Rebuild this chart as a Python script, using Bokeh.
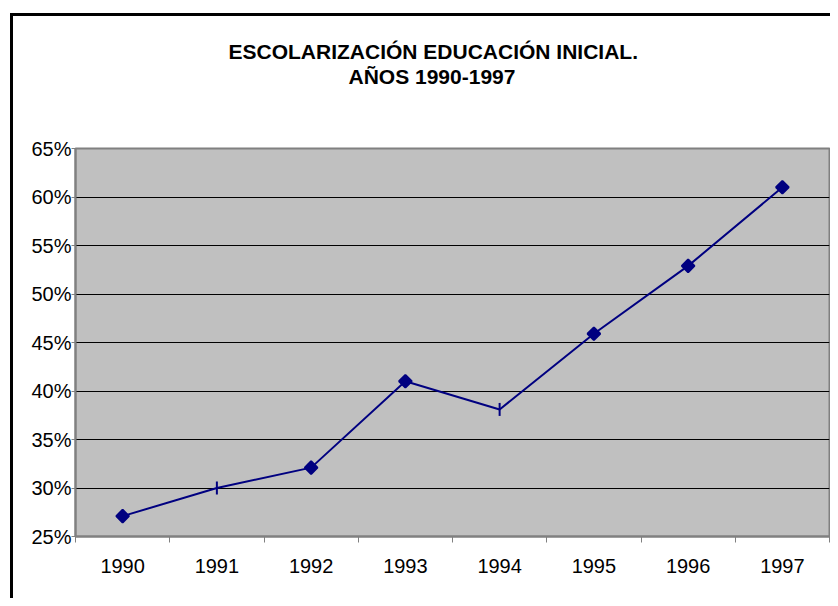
import math
from bokeh.plotting import figure
from bokeh.models import (Range1d, FixedTicker, NumeralTickFormatter, Title,
                          ColumnDataSource, InlineStyleSheet)
from bokeh.embed import file_html
from bokeh.resources import INLINE

# ---- data ----
years = ["1990", "1991", "1992", "1993", "1994", "1995", "1996", "1997"]
enrolment = [0.271, 0.300, 0.321, 0.410, 0.381, 0.459, 0.529, 0.610]
y_ticks = [0.25, 0.30, 0.35, 0.40, 0.45, 0.50, 0.55, 0.60, 0.65]
title_line1 = "ESCOLARIZACIÓN EDUCACIÓN INICIAL."
title_line2 = "AÑOS 1990-1997"

# ---- styles (per point marker look) ----
marker_shapes = ["square", "dash", "square", "square", "dash", "square", "square", "square"]
marker_angles = [math.pi / 4 if m == "square" else math.pi / 2 for m in marker_shapes]
marker_sizes = [9 if m == "square" else 13 for m in marker_shapes]

idx = list(range(len(years)))
src = ColumnDataSource(dict(x=idx, y=enrolment, marker=marker_shapes,
                            angle=marker_angles, size=marker_sizes))

border_css = InlineStyleSheet(css="""
:host::after {
  content: "";
  position: absolute;
  left: 10px;
  top: 13px;
  width: calc(100% - 13px);
  height: calc(100% - 16px);
  border-left: 3px solid black;
  border-top: 3px solid black;
  pointer-events: none;
  z-index: 10;
}
""")

p = figure(width=830, height=598, output_backend="svg", toolbar_location=None,
           x_range=Range1d(-0.5, len(years) - 0.5),
           y_range=Range1d(y_ticks[0], y_ticks[-1]),
           min_border_left=75, min_border_right=1, min_border_top=148, min_border_bottom=62,
           stylesheets=[border_css])
p.title.visible = False
p.background_fill_color = "#C0C0C0"
p.border_fill_color = "white"
p.outline_line_color = "#808080"
p.outline_line_width = 2

# x axis: labels at centres, tick marks at category boundaries
xa = p.xaxis[0]
xa.ticker = FixedTicker(ticks=idx, minor_ticks=[i - 0.5 for i in range(len(years) + 1)])
xa.major_label_overrides = {i: y for i, y in zip(idx, years)}
xa.major_tick_line_color = None
xa.major_tick_out = 0
xa.major_tick_in = 0
xa.minor_tick_line_color = "#808080"
xa.minor_tick_line_width = 1
xa.minor_tick_out = 6
xa.minor_tick_in = 0
xa.axis_line_color = "#808080"
xa.axis_line_width = 2
xa.major_label_text_font = "Liberation Sans"
xa.major_label_text_font_size = "20px"
xa.major_label_text_color = "black"
xa.major_label_standoff = 16

ya = p.yaxis[0]
ya.ticker = FixedTicker(ticks=y_ticks)
ya.formatter = NumeralTickFormatter(format="0%")
ya.major_tick_line_color = "#808080"
ya.major_tick_out = 4
ya.major_tick_in = 0
ya.minor_tick_line_color = None
ya.axis_line_color = "#808080"
ya.axis_line_width = 2
ya.major_label_text_font = "Liberation Sans"
ya.major_label_text_font_size = "20px"
ya.major_label_text_color = "black"
ya.major_label_standoff = 0

p.xgrid.visible = False
p.ygrid.ticker = FixedTicker(ticks=y_ticks[1:-1])
p.ygrid.grid_line_color = "black"
p.ygrid.grid_line_width = 1

p.line("x", "y", source=src, line_color="#000080", line_width=2)
p.scatter("x", "y", source=src, marker="marker", angle="angle", size="size",
          fill_color="#000080", line_color="#000080", line_width=2)

# titles: first added sits closest to the frame (a blank spacer first)
p.add_layout(Title(text=" ", standoff=36, text_font="Liberation Sans",
                   text_font_style="bold", text_font_size="21px"), "above")
p.add_layout(Title(text=title_line2, align="left", offset=273, standoff=0,
                   text_font="Liberation Sans", text_font_style="bold",
                   text_font_size="21px", text_color="black"), "above")
p.add_layout(Title(text=title_line1, align="left", offset=153, standoff=0,
                   text_font="Liberation Sans", text_font_style="bold",
                   text_font_size="21px", text_color="black"), "above")

open("out.html", "w").write(file_html(p, INLINE))
